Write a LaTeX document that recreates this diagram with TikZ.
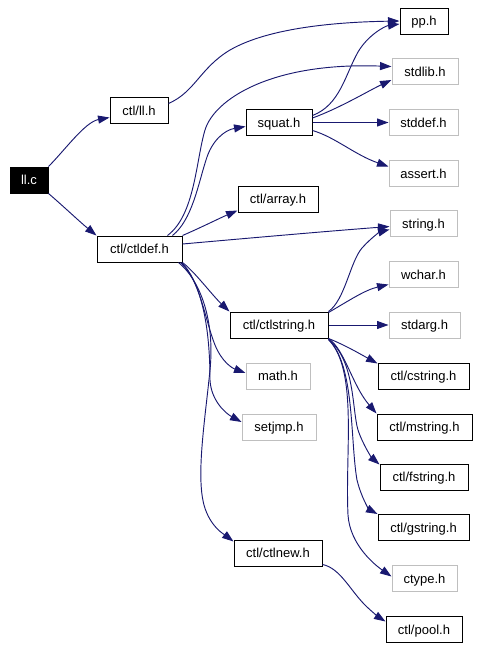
\documentclass[tikz,border=0pt]{standalone}
\usepackage{fontspec}
\setmainfont{Liberation Sans}
\usetikzlibrary{arrows.meta,calc}
\definecolor{edgecol}{HTML}{191970}
\definecolor{graybox}{HTML}{BFBFBF}
\begin{document}
\begin{tikzpicture}[x=0.75pt,y=-0.75pt,
  every node/.style={font=\fontsize{9.75}{11}\selectfont, inner sep=0pt, minimum height=19.5pt, text height=7pt, text depth=0pt},
  blk/.style={draw=black, line width=0.75pt, minimum width=#1},
  gry/.style={draw=graybox, line width=0.75pt, minimum width=#1},
  edge/.style={draw=edgecol, line width=0.7pt, -{Triangle[length=8.6pt,width=6pt]}}]
\useasboundingbox (0,0) rectangle (479,650);
% nodes
\node[blk=28.5pt, fill=black, text=white] (llc) at (29,180) {ll.c};
\node[blk=43.5pt] (llh) at (139,110.5) {ctl/ll.h};
\node[blk=36pt] (pp) at (424,21) {pp.h};
\node[gry=49.5pt] (stdlib) at (425,71.5) {stdlib.h};
\node[blk=49.5pt] (squat) at (279,122.5) {squat.h};
\node[gry=51.75pt] (stddef) at (423.5,122.5) {stddef.h};
\node[gry=51.75pt] (assert) at (423.5,173.5) {assert.h};
\node[blk=60pt] (array) at (278,199) {ctl/array.h};
\node[blk=63.75pt] (ctldef) at (139.5,249) {ctl/ctldef.h};
\node[gry=50.25pt] (string) at (423.5,223.5) {string.h};
\node[gry=51.75pt] (wchar) at (423.5,274.5) {wchar.h};
\node[blk=73.5pt] (ctlstring) at (279,325) {ctl/ctlstring.h};
\node[gry=53.25pt] (stdarg) at (424.5,325) {stdarg.h};
\node[blk=68.25pt] (cstring) at (423.5,376) {ctl/cstring.h};
\node[gry=48pt] (math) at (278,376) {math.h};
\node[blk=71.25pt] (mstring) at (424.5,427) {ctl/mstring.h};
\node[gry=55.5pt] (setjmp) at (279,427) {setjmp.h};
\node[blk=66pt] (fstring) at (424,477) {ctl/fstring.h};
\node[blk=68.25pt] (gstring) at (423.5,527.5) {ctl/gstring.h};
\node[gry=48.75pt] (ctype) at (424.5,578.5) {ctype.h};
\node[blk=66pt] (ctlnew) at (278,553) {ctl/ctlnew.h};
\node[blk=57pt] (pool) at (424,629.5) {ctl/pool.h};
% edges from ll.c
\draw[edge] (llc.north east) .. controls (65,150) and (85,122) .. ($(llh.west)+(0,7)$);
\draw[edge] (llc.south east) .. controls (62,205) and (80,222) .. (ctldef.north west);
% ll.h
\draw[edge] ($(llh.east)+(0,-7)$) .. controls (195,92) and (200,68) .. (230,50) .. controls (270,27) and (340,22) .. (pp.west);
% ctldef
\draw[edge] ($(ctldef.north east)+(-15,0)$) .. controls (195,215) and (196,160) .. (205,130) .. controls (214,100) and (270,62) .. ($(stdlib.west)+(0,-5)$);
\draw[edge] ($(ctldef.north east)+(-10,0)$) .. controls (192,220) and (198,185) .. (206,160) .. controls (212,140) and (225,130) .. ($(squat.west)+(0,4)$);
\draw[edge] (ctldef.north east) .. controls (200,228) and (220,218) .. ($(array.south west)+(0,-2)$);
\draw[edge] ($(ctldef.east)+(0,-5)$) .. controls (250,238) and (330,231) .. ($(string.west)+(0,3)$);
\draw[edge] (ctldef.south east) .. controls (195,272) and (212,295) .. (ctlstring.north west);
\draw[edge] ($(ctldef.south east)+(-1,0)$) .. controls (200,280) and (205,320) .. (215,345) .. controls (222,362) and (232,368) .. ($(math.west)+(0,-3)$);
\draw[edge] ($(ctldef.south east)+(-2,0)$) .. controls (205,285) and (210,340) .. (210,380) .. controls (211,400) and (225,413) .. ($(setjmp.west)+(0,-5)$);
\draw[edge] ($(ctldef.south east)+(-4,0)$) .. controls (200,280) and (215,320) .. (210,370) .. controls (205,420) and (196,475) .. (204,505) .. controls (210,527) and (225,535) .. ($(ctlnew.north west)+(0,2)$);
% squat
\draw[edge] ($(squat.east)+(0,-7)$) .. controls (340,105) and (345,75) .. (358,52) .. controls (368,35) and (385,26) .. ($(pp.west)+(0,3)$);
\draw[edge] ($(squat.east)+(0,-4.5)$) .. controls (340,108) and (370,90) .. ($(stdlib.west)+(0,8.5)$);
\draw[edge] (squat.east) -- (stddef.west);
\draw[edge] ($(squat.east)+(0,8)$) .. controls (335,137) and (355,155) .. ($(assert.west)+(0,-7)$);
% ctlstring
\draw[edge] (ctlstring.north east) .. controls (345,300) and (350,262) .. (362,248) .. controls (372,237) and (380,232) .. ($(string.west)+(0,6)$);
\draw[edge] ($(ctlstring.north east)+(0,1)$) .. controls (350,300) and (365,290) .. ($(wchar.west)+(0,10)$);
\draw[edge] (ctlstring.east) -- (stdarg.west);
\draw[edge] (ctlstring.south east) .. controls (345,345) and (362,355) .. ($(cstring.north west)+(0,1)$);
\draw[edge] (ctlstring.south east) .. controls (345,350) and (352,385) .. (mstring.north west);
\draw[edge] ($(ctlstring.south east)+(0,1)$) .. controls (355,360) and (352,410) .. (358,430) .. controls (363,445) and (372,458) .. ($(fstring.north west)+(0,1)$);
\draw[edge] ($(ctlstring.south east)+(0,1)$) .. controls (355,365) and (350,440) .. (357,480) .. controls (362,500) and (370,510) .. (gstring.north west);
\draw[edge] ($(ctlstring.south east)+(0,1)$) .. controls (358,370) and (345,450) .. (348,515) .. controls (350,545) and (375,565) .. ($(ctype.west)+(0,-2)$);
% ctlnew
\draw[edge] ($(ctlnew.south east)+(0,-2)$) .. controls (340,568) and (350,590) .. (365,605) .. controls (372,612) and (380,618) .. ($(pool.west)+(0,-8)$);
\end{tikzpicture}
\end{document}
